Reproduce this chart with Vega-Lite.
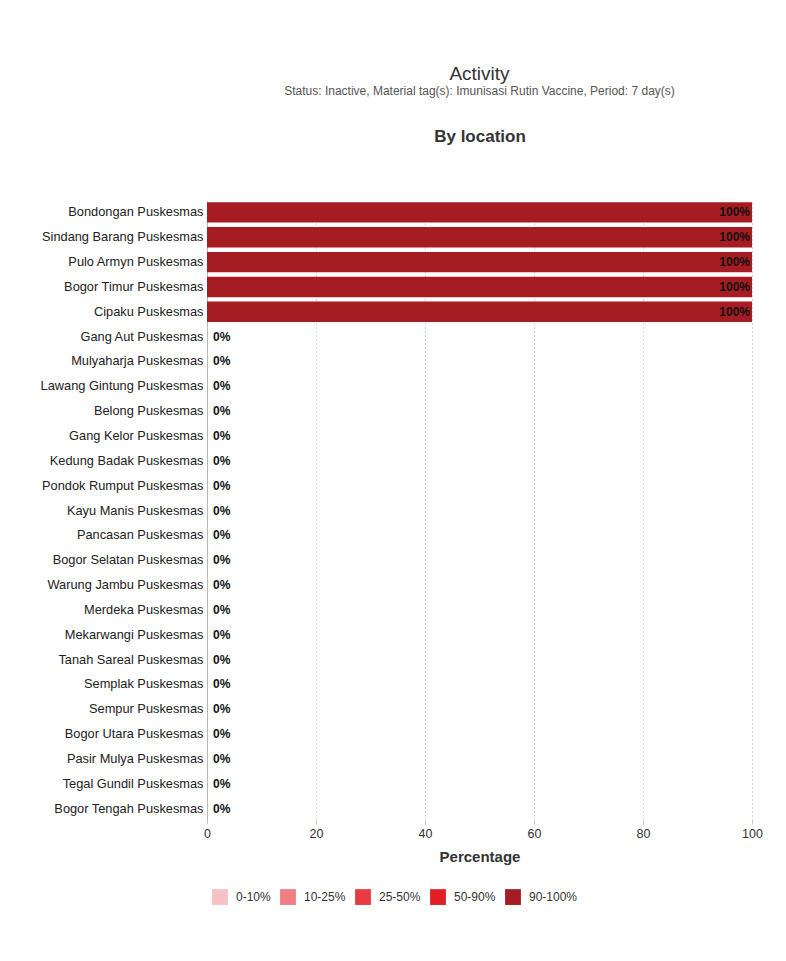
{
  "$schema": "https://vega.github.io/schema/vega-lite/v6.json",
  "autosize": {"type": "none"},
  "padding": {"left": 207, "top": 201, "right": 34, "bottom": 141},
  "width": 545,
  "height": 619,
  "background": "white",
  "title": {
    "text": "Activity",
    "subtitle": "Status: Inactive, Material tag(s): Imunisasi Rutin Vaccine, Period: 7 day(s)",
    "anchor": "middle",
    "frame": "group",
    "font": "Liberation Sans",
    "fontSize": 19,
    "fontWeight": "normal",
    "color": "#333333",
    "subtitleFont": "Liberation Sans",
    "subtitleFontSize": 12,
    "subtitleColor": "#555555",
    "subtitlePadding": 2,
    "offset": 30
  },
  "data": {
    "values": [
      {"location": "Bondongan Puskesmas", "pct": 100, "range": "90-100%"},
      {"location": "Sindang Barang Puskesmas", "pct": 100, "range": "90-100%"},
      {"location": "Pulo Armyn Puskesmas", "pct": 100, "range": "90-100%"},
      {"location": "Bogor Timur Puskesmas", "pct": 100, "range": "90-100%"},
      {"location": "Cipaku Puskesmas", "pct": 100, "range": "90-100%"},
      {"location": "Gang Aut Puskesmas", "pct": 0, "range": "0-10%"},
      {"location": "Mulyaharja Puskesmas", "pct": 0, "range": "0-10%"},
      {"location": "Lawang Gintung Puskesmas", "pct": 0, "range": "0-10%"},
      {"location": "Belong Puskesmas", "pct": 0, "range": "0-10%"},
      {"location": "Gang Kelor Puskesmas", "pct": 0, "range": "0-10%"},
      {"location": "Kedung Badak Puskesmas", "pct": 0, "range": "0-10%"},
      {"location": "Pondok Rumput Puskesmas", "pct": 0, "range": "0-10%"},
      {"location": "Kayu Manis Puskesmas", "pct": 0, "range": "0-10%"},
      {"location": "Pancasan Puskesmas", "pct": 0, "range": "0-10%"},
      {"location": "Bogor Selatan Puskesmas", "pct": 0, "range": "0-10%"},
      {"location": "Warung Jambu Puskesmas", "pct": 0, "range": "0-10%"},
      {"location": "Merdeka Puskesmas", "pct": 0, "range": "0-10%"},
      {"location": "Mekarwangi Puskesmas", "pct": 0, "range": "0-10%"},
      {"location": "Tanah Sareal Puskesmas", "pct": 0, "range": "0-10%"},
      {"location": "Semplak Puskesmas", "pct": 0, "range": "0-10%"},
      {"location": "Sempur Puskesmas", "pct": 0, "range": "0-10%"},
      {"location": "Bogor Utara Puskesmas", "pct": 0, "range": "0-10%"},
      {"location": "Pasir Mulya Puskesmas", "pct": 0, "range": "0-10%"},
      {"location": "Tegal Gundil Puskesmas", "pct": 0, "range": "0-10%"},
      {"location": "Bogor Tengah Puskesmas", "pct": 0, "range": "0-10%"}
    ]
  },
  "encoding": {
    "y": {
      "field": "location",
      "type": "nominal",
      "sort": null,
      "scale": {"paddingInner": 0.18, "paddingOuter": 0.05},
      "axis": {
        "title": null,
        "ticks": false,
        "labelPadding": 4,
        "labelFont": "Liberation Sans",
        "labelFontSize": 12.8,
        "labelColor": "#222222",
        "domainColor": "#b8b8b8",
        "labelLimit": 300
      }
    }
  },
  "layer": [
    {
      "mark": {"type": "bar"},
      "encoding": {
        "x": {
          "field": "pct",
          "type": "quantitative",
          "scale": {"domain": [0, 100], "nice": false},
          "axis": {
            "title": "Percentage",
            "values": [0, 20, 40, 60, 80, 100],
            "grid": true,
            "gridDash": [1, 3],
            "gridColor": "#aaaaaa",
            "domain": false,
            "ticks": true,
            "tickSize": 4,
            "tickColor": "#cccccc",
            "labelFlush": false,
            "labelFont": "Liberation Sans",
            "labelFontSize": 12.5,
            "labelColor": "#333333",
            "labelPadding": 3,
            "titleFont": "Liberation Sans",
            "titleFontSize": 15,
            "titleFontWeight": "bold",
            "titleColor": "#333333",
            "titlePadding": 10
          }
        },
        "color": {
          "field": "range",
          "type": "nominal",
          "scale": {
            "domain": ["0-10%", "10-25%", "25-50%", "50-90%", "90-100%"],
            "range": ["#f7c1c3", "#ef7f82", "#e63b40", "#e01f25", "#a51c22"]
          },
          "legend": {
            "title": null,
            "orient": "bottom",
            "direction": "horizontal",
            "symbolType": "square",
            "symbolSize": 250,
            "symbolStrokeWidth": 0,
            "labelFont": "Liberation Sans",
            "labelFontSize": 12,
            "labelColor": "#333333",
            "columnPadding": 9,
            "labelOffset": 8,
            "offset": 19,
            "padding": 5
          }
        }
      }
    },
    {
      "mark": {"type": "text", "align": "right", "dx": -2, "font": "Liberation Sans", "fontSize": 12, "fontWeight": "bold", "color": "#111111"},
      "transform": [{"filter": "datum.pct >= 50"}],
      "encoding": {
        "x": {"field": "pct", "type": "quantitative", "axis": {"orient": "top", "title": "By location", "labels": false, "ticks": false, "domain": false, "grid": false, "titleFont": "Liberation Sans", "titleFontSize": 17, "titleFontWeight": "bold", "titleColor": "#333333", "titlePadding": 56}},
        "text": {"value": "100%"}
      }
    },
    {
      "mark": {"type": "text", "align": "left", "dx": 6, "font": "Liberation Sans", "fontSize": 12, "fontWeight": "bold", "color": "#111111"},
      "transform": [{"filter": "datum.pct < 50"}],
      "encoding": {
        "x": {"field": "pct", "type": "quantitative", "axis": null},
        "text": {"value": "0%"}
      }
    }
  ],
  "resolve": {"axis": {"x": "independent"}},
  "config": {"view": {"stroke": null}}
}
